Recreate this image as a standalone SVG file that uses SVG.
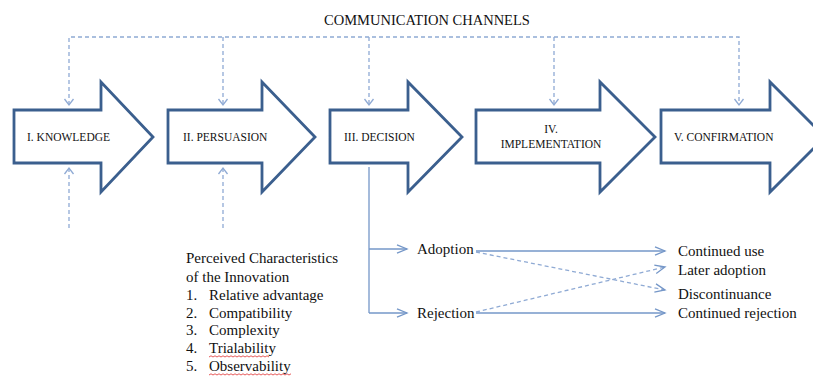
<svg xmlns="http://www.w3.org/2000/svg" width="813" height="377" viewBox="0 0 813 377">
<style>
.stage{fill:#fff;stroke:#3B5F8E;stroke-width:2.8;stroke-linejoin:miter}
.lbl{font-family:"Liberation Serif","Times New Roman",serif;font-size:11.5px;fill:#111}
.txt{font-family:"Liberation Serif","Times New Roman",serif;font-size:15px;fill:#111}
.title{font-family:"Liberation Serif","Times New Roman",serif;font-size:14.5px;fill:#111}
.dash{fill:none;stroke:#8FAAD4;stroke-width:1.3;stroke-dasharray:4 3}
.solid{fill:none;stroke:#7597C8;stroke-width:1.3}
.sq{fill:none;stroke:#E03030;stroke-width:0.8}
</style>
<defs>
<marker id="dh" markerUnits="userSpaceOnUse" markerWidth="12" markerHeight="12" refX="8" refY="6" orient="auto-start-reverse">
<path d="M2,1.5 L8,6 L2,10.5" fill="none" stroke="#8FAAD4" stroke-width="1.3"/>
</marker>
<marker id="sh" markerUnits="userSpaceOnUse" markerWidth="14" markerHeight="12" refX="11" refY="6" orient="auto">
<path d="M1,1.8 L11,6 L1,10.2" fill="none" stroke="#7597C8" stroke-width="1.3"/>
</marker>
</defs>
<text class="title" x="427" y="25" text-anchor="middle">COMMUNICATION CHANNELS</text>
<g id="stage1"><path class="stage" d="M14,110 H101 V82 L153,137 L101,192 V163 H14 Z"/><text class="lbl" x="27" y="141">I. KNOWLEDGE</text></g>
<g id="stage2"><path class="stage" d="M168,110 H262 V82 L315,137 L262,192 V163 H168 Z"/><text class="lbl" x="183" y="141">II. PERSUASION</text></g>
<g id="stage3"><path class="stage" d="M330,110 H408 V82 L462,137 L408,192 V163 H330 Z"/><text class="lbl" x="344" y="141">III. DECISION</text></g>
<g id="stage4"><path class="stage" d="M476,110 H600 V82 L655,137 L600,192 V163 H476 Z"/><text class="lbl" x="551" y="133" text-anchor="middle">IV.</text><text class="lbl" x="551" y="148" text-anchor="middle">IMPLEMENTATION</text></g>
<g id="stage5"><path class="stage" d="M661,110 H770 V82 L825,137 L770,192 V163 H661 Z"/><text class="lbl" x="674" y="141">V. CONFIRMATION</text></g>
<g id="characteristics">
<text class="txt" x="186" y="263">Perceived Characteristics</text>
<text class="txt" x="186" y="282">of the Innovation</text>
<text class="txt" x="186" y="300">1.</text><text class="txt" x="209" y="300">Relative advantage</text>
<text class="txt" x="186" y="318">2.</text><text class="txt" x="209" y="318">Compatibility</text>
<text class="txt" x="186" y="335">3.</text><text class="txt" x="209" y="335">Complexity</text>
<text class="txt" x="186" y="353">4.</text><text class="txt" x="209" y="353">Trialability</text>
<text class="txt" x="186" y="371">5.</text><text class="txt" x="209" y="371">Observability</text>
<path class="sq" d="M209,357 l2,-1.2 l2,1.2 l2,-1.2 l2,1.2 l2,-1.2 l2,1.2 l2,-1.2 l2,1.2 l2,-1.2 l2,1.2 l2,-1.2 l2,1.2 l2,-1.2 l2,1.2 l2,-1.2 l2,1.2 l2,-1.2 l2,1.2 l2,-1.2 l2,1.2 l2,-1.2 l2,1.2 l2,-1.2 l2,1.2 l2,-1.2 l2,1.2 l2,-1.2 l2,1.2 l2,-1.2 l2,1.2"/>
<path class="sq" d="M209,375 l2,-1.2 l2,1.2 l2,-1.2 l2,1.2 l2,-1.2 l2,1.2 l2,-1.2 l2,1.2 l2,-1.2 l2,1.2 l2,-1.2 l2,1.2 l2,-1.2 l2,1.2 l2,-1.2 l2,1.2 l2,-1.2 l2,1.2 l2,-1.2 l2,1.2 l2,-1.2 l2,1.2 l2,-1.2 l2,1.2 l2,-1.2 l2,1.2 l2,-1.2 l2,1.2 l2,-1.2 l2,1.2 l2,-1.2 l2,1.2 l2,-1.2 l2,1.2 l2,-1.2 l2,1.2 l2,-1.2 l2,1.2 l2,-1.2 l2,1.2 l2,-1.2"/>
</g>
<g id="adoption"><text class="txt" x="417" y="254">Adoption</text></g>
<g id="rejection"><text class="txt" x="417" y="318">Rejection</text></g>
<g id="continued-use"><text class="txt" x="678" y="256">Continued use</text></g>
<g id="later-adoption"><text class="txt" x="678" y="275">Later adoption</text></g>
<g id="discontinuance"><text class="txt" x="678" y="299">Discontinuance</text></g>
<g id="continued-rejection"><text class="txt" x="678" y="318">Continued rejection</text></g>
<g id="connectors">
<path class="dash" d="M69,105 V37 H739 V105" marker-start="url(#dh)" marker-end="url(#dh)"/>
<path class="dash" d="M223,37 V105" marker-end="url(#dh)"/>
<path class="dash" d="M369,37 V105" marker-end="url(#dh)"/>
<path class="dash" d="M554,37 V105" marker-end="url(#dh)"/>
<path class="dash" d="M69,228 V168" marker-end="url(#dh)"/>
<path class="dash" d="M223,228 V168" marker-end="url(#dh)"/>
<path class="solid" d="M369,167 V313"/>
<path class="solid" d="M369,249 H407" marker-end="url(#sh)"/>
<path class="solid" d="M369,313 H407" marker-end="url(#sh)"/>
<path class="solid" d="M476,251 H665" marker-end="url(#sh)"/>
<path class="solid" d="M476,313 H665" marker-end="url(#sh)"/>
<path class="dash" d="M476,252 L665,290" marker-end="url(#sh)"/>
<path class="dash" d="M476,312 L665,267" marker-end="url(#sh)"/>
</g>
</svg>
